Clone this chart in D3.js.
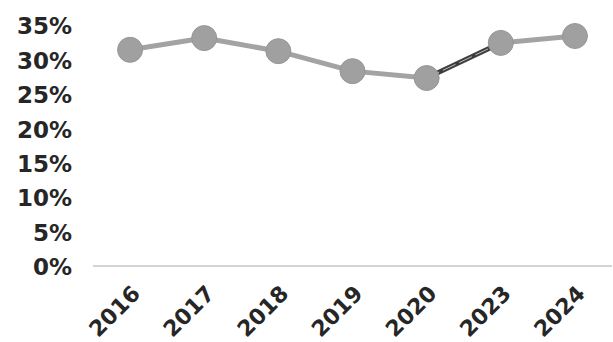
<!DOCTYPE html>
<html><head><meta charset="utf-8">
<script src="https://cdn.jsdelivr.net/npm/d3@7"></script>
<style>html,body{margin:0;padding:0;background:#fff;}svg{display:block;}</style>
</head><body>
<svg id="c" width="613" height="342"></svg>
<script>
const years = ["2016","2017","2018","2019","2020","2023","2024"];
const values = [31.4, 33.1, 31.2, 28.3, 27.3, 32.4, 33.4];
const yTicks = [0,5,10,15,20,25,30,35];

const svg = d3.select("#c");
const x = d3.scalePoint().domain(years).range([93,612]).padding(0.5);
const y = d3.scaleLinear().domain([0,35]).range([266,25]);
const font = "'DejaVu Sans', sans-serif";

// y labels
const ya = svg.append("g").attr("transform","translate(72,0)")
  .call(d3.axisLeft(y).tickValues(yTicks).tickFormat(d=>d+"%").tickSize(0).tickPadding(0));
ya.select(".domain").remove();
ya.selectAll("text").attr("font-family",font).attr("font-weight",700)
  .attr("font-size",23).attr("fill","#262626").attr("dy","0.38em").attr("text-anchor","end");

// x axis line
svg.append("line").attr("x1",93).attr("x2",612).attr("y1",y(0)).attr("y2",y(0))
  .attr("stroke","#c4c4c4").attr("stroke-width",1.5);

// x labels
const xa = svg.append("g").attr("transform",`translate(0,${y(0)})`)
  .call(d3.axisBottom(x).tickSize(0).tickPadding(0));
xa.select(".domain").remove();
xa.selectAll("text").attr("font-family",font).attr("font-weight",700)
  .attr("font-size",22).attr("fill","#262626").attr("text-anchor","end")
  .attr("dy",0).attr("y",0)
  .attr("transform","translate(11,29) rotate(-45)");

// line
const line = d3.line().x((d,i)=>x(years[i])).y(d=>y(d));
svg.append("path").datum(values).attr("d",line).attr("fill","none")
  .attr("stroke","#a3a3a3").attr("stroke-width",5).attr("stroke-linejoin","round");
// dark hatched segment 2020-2023
const seg = d3.line().x((d,i)=>x(years[4+i])).y(d=>y(d));
svg.append("path").datum([values[4],values[5]]).attr("d",seg)
  .attr("fill","none").attr("stroke","#3c3c3c").attr("stroke-width",4.5);
svg.append("path").datum([values[4],values[5]]).attr("d",seg)
  .attr("fill","none").attr("stroke","#bdbdbd").attr("stroke-width",1)
  .attr("stroke-dasharray","14 4");

svg.selectAll("circle.pt").data(values).join("circle").attr("class","pt")
  .attr("cx",(d,i)=>x(years[i])).attr("cy",d=>y(d)).attr("r",12.5)
  .attr("fill","#a0a0a0").attr("stroke","#969696").attr("stroke-width",1);
</script>
</body></html>
